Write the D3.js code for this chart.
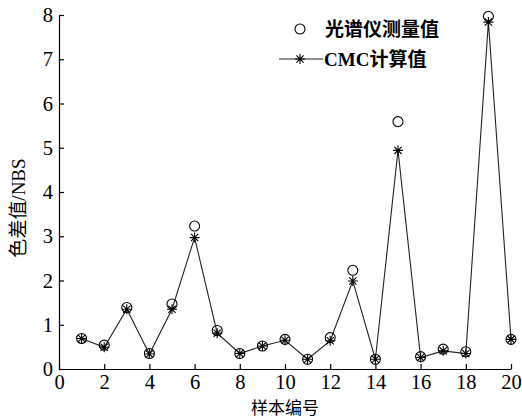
<!DOCTYPE html>
<html><head><meta charset="utf-8">
<script src="https://cdn.jsdelivr.net/npm/d3@7/dist/d3.min.js"></script>
<style>body{margin:0;background:#fff}svg{display:block}</style>
</head><body>
<script>
const samples = [1,2,3,4,5,6,7,8,9,10,11,12,13,14,15,16,17,18,19,20];
const measured = [0.69,0.54,1.39,0.35,1.47,3.23,0.87,0.35,0.52,0.67,0.22,0.71,2.23,0.22,5.59,0.28,0.45,0.39,7.97,0.67];
const cmc = [0.69,0.49,1.35,0.34,1.35,2.97,0.81,0.35,0.52,0.65,0.22,0.64,1.99,0.22,4.94,0.26,0.41,0.35,7.84,0.67];
const xTicks = [0,2,4,6,8,10,12,14,16,18,20];
const yTicks = [0,1,2,3,4,5,6,7,8];
const legendLabels = ["光谱仪测量值","CMC计算值"];
const xLabel = "样本编号", yLabel = "色差值/NBS";

const W=522,H=419;
const svg=d3.select("body").append("svg").attr("width",W).attr("height",H);
const x=d3.scaleLinear().domain([0,20]).range([59,511]);
const y=d3.scaleLinear().domain([0,8]).range([369,15]);
const serif='"Liberation Serif","Times New Roman",serif';
const cjk='"Noto Sans CJK SC",sans-serif';

const xa=svg.append("g").attr("transform","translate(0,369)")
  .call(d3.axisBottom(x).tickValues(xTicks).tickSizeInner(-5).tickSizeOuter(0).tickPadding(5));
const ya=svg.append("g").attr("transform","translate(59,0)")
  .call(d3.axisLeft(y).tickValues(yTicks).tickSizeInner(-5).tickSizeOuter(0).tickPadding(6));
[xa,ya].forEach(a=>{
  a.selectAll("path,line").attr("stroke","#000").attr("stroke-width",1.2);
  a.selectAll("text").attr("font-family",serif).attr("font-size",20.5).attr("fill","#000");
});

const line=d3.line().x((d,i)=>x(samples[i])).y(d=>y(d));
svg.append("path").datum(cmc).attr("d",line).attr("fill","none").attr("stroke","#222").attr("stroke-width",1.1);

function star(g,cx,cy,r){
  const p=d3.path();
  p.moveTo(cx,cy-r);p.lineTo(cx,cy+r);
  p.moveTo(cx-r,cy);p.lineTo(cx+r,cy);
  const q=r*0.72;
  p.moveTo(cx-q,cy-q);p.lineTo(cx+q,cy+q);
  p.moveTo(cx-q,cy+q);p.lineTo(cx+q,cy-q);
  g.append("path").attr("d",p.toString()).attr("stroke","#000").attr("stroke-width",1.1).attr("fill","none");
}
const sg=svg.append("g");
cmc.forEach((v,i)=>star(sg,x(samples[i]),y(v),5));
svg.append("g").selectAll("circle").data(measured).join("circle")
  .attr("cx",(d,i)=>x(samples[i])).attr("cy",d=>y(d)).attr("r",5)
  .attr("fill","none").attr("stroke","#000").attr("stroke-width",1.1);

// legend
svg.append("circle").attr("cx",300).attr("cy",29).attr("r",5).attr("fill","none").attr("stroke","#000").attr("stroke-width",1.1);
svg.append("line").attr("x1",279).attr("x2",323).attr("y1",59).attr("y2",59).attr("stroke","#222").attr("stroke-width",1.1);
star(svg,300,59,5);
svg.append("text").attr("x",325).attr("y",36).attr("font-family",cjk).attr("font-weight","bold").attr("font-size",19).text(legendLabels[0]);
const t2=svg.append("text").attr("x",324).attr("y",66).attr("font-weight","bold").attr("font-size",19);
t2.append("tspan").attr("font-family",serif).text("CMC");
t2.append("tspan").attr("font-family",cjk).text("计算值");

svg.append("text").attr("x",285).attr("y",414).attr("text-anchor","middle").attr("font-family",cjk).attr("font-size",17).text(xLabel);
const yl=svg.append("text").attr("transform","translate(25,208) rotate(-90)").attr("text-anchor","middle").attr("font-size",19);
yl.append("tspan").attr("font-family",cjk).text("色差值");
yl.append("tspan").attr("font-family",serif).text("/NBS");
</script>
</body></html>
